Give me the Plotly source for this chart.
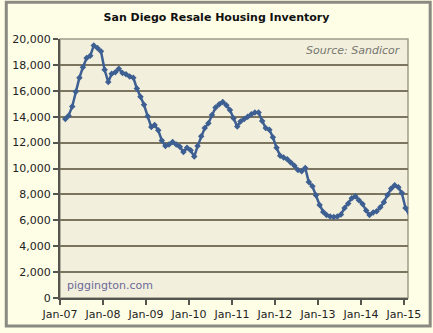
import plotly.graph_objects as go
import pandas as pd

values = [13830, 14080, 14790, 15930, 17010, 17820, 18530, 18700, 19500, 19300,
          19050, 17620, 16680, 17310, 17440, 17700, 17370, 17270, 17110, 17010,
          16180, 15550, 14920, 14030, 13200, 13350, 12950, 12160, 11730, 11855,
          12040, 11855, 11680, 11280, 11600, 11400, 10920, 11730, 12490, 13120,
          13500, 14130, 14710, 14960, 15140, 14890, 14510, 13880, 13250, 13630,
          13826, 14000, 14180, 14330, 14330, 13675, 13120, 12990, 12415, 11605,
          10975, 10850, 10720, 10470, 10220, 9885, 9785, 10036, 8950, 8625,
          7943, 7185, 6650, 6400, 6300, 6250, 6300, 6450, 6950, 7300,
          7700, 7850, 7550, 7250, 6750, 6400, 6600, 6700, 7000, 7400,
          7950, 8450, 8700, 8550, 8100, 6950, 6400]
dates = pd.date_range("2007-01-15", periods=len(values), freq="MS") + pd.Timedelta(days=14)
tick_labels = ["Jan-07", "Jan-08", "Jan-09", "Jan-10", "Jan-11", "Jan-12", "Jan-13", "Jan-14", "Jan-15"]
tick_vals = [f"20{y:02d}-01-01" for y in range(7, 16)]

FONT = "DejaVu Sans"
fig = go.Figure()
fig.add_trace(go.Scatter(
    x=dates, y=values, mode="lines+markers",
    line=dict(color="#3d5f92", width=2.5),
    marker=dict(color="#3d5f92", size=5, symbol="diamond"),
    cliponaxis=False,
))

W, H = 433, 333
L, R, T, B = 56, 24, 39, 30
pw, ph = W - L - R, H - T - B

def px(x):
    return (x - L) / pw

def py(y):
    return (H - B - y) / ph

fig.update_layout(
    width=W, height=H,
    margin=dict(l=L, r=R, t=T, b=B),
    paper_bgcolor="#fefee6",
    plot_bgcolor="#f2efdd",
    showlegend=False,
    title=dict(text="<b>San Diego Resale Housing Inventory</b>", x=0.5, xanchor="center",
               y=1 - 17 / H, yanchor="middle", font=dict(family=FONT, size=11, color="#111111")),
    font=dict(family=FONT, size=11, color="#222222"),
    xaxis=dict(
        range=["2007-01-01", "2015-02-05"],
        tickvals=tick_vals, ticktext=tick_labels,
        showgrid=False, showline=True, linecolor="#555550", linewidth=2,
        ticks="outside", ticklen=5, tickwidth=2, tickcolor="#555550",
        tickfont=dict(family=FONT, size=11, color="#222222"),
        zeroline=False, fixedrange=True,
    ),
    yaxis=dict(
        range=[0, 20000], dtick=2000, tickformat=",",
        showgrid=True, gridcolor="#7b7560", gridwidth=2,
        showline=True, linecolor="#555550", linewidth=2,
        ticks="outside", ticklen=5, tickwidth=2, tickcolor="#555550",
        tickfont=dict(family=FONT, size=11, color="#222222"),
        zeroline=False, fixedrange=True,
    ),
    shapes=[
        dict(type="rect", xref="paper", yref="paper", x0=0, x1=1, y0=0, y1=1,
             line=dict(color="#a09c8c", width=1.5), layer="below"),
        dict(type="rect", xref="paper", yref="paper",
             x0=px(1.5), x1=px(431.5), y0=py(331.5), y1=py(1.5),
             line=dict(color="#8a8a82", width=3)),
    ],
    annotations=[
        dict(text="<i>Source: Sandicor</i>", xref="paper", yref="paper",
             x=px(404), y=py(51), xanchor="right", yanchor="middle", showarrow=False,
             font=dict(family=FONT, size=11, color="#77776f")),
        dict(text="piggington.com", xref="paper", yref="paper",
             x=px(61), y=py(290), xanchor="left", yanchor="middle", showarrow=False,
             font=dict(family=FONT, size=11, color="#6c6a9a")),
    ],
)

fig.write_html("out.html")
